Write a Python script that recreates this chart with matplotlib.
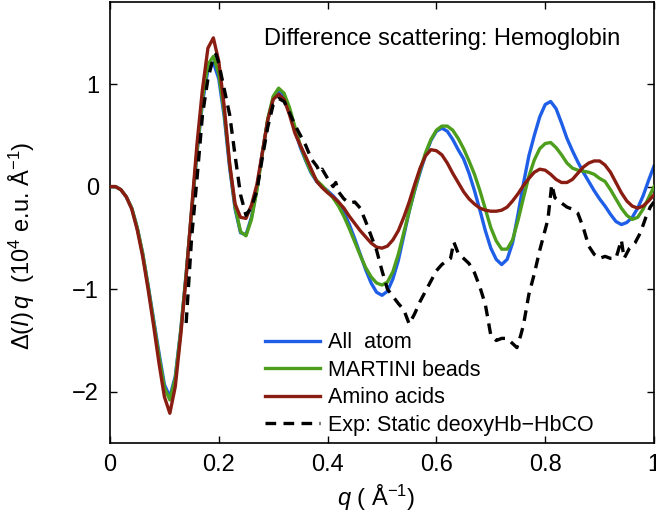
import numpy as np
import matplotlib
matplotlib.use("Agg")
import matplotlib.pyplot as plt

plt.rcParams["font.family"] = ["Liberation Sans", "DejaVu Sans"]
plt.rcParams["mathtext.fontset"] = "custom"
plt.rcParams["mathtext.rm"] = "Liberation Sans"
plt.rcParams["mathtext.it"] = "Liberation Sans:italic"
plt.rcParams["axes.unicode_minus"] = True

# model curves sampled every 0.01 in q
q_grid = np.linspace(0, 1, 101)

all_atom = [
    0, 0, -0.03, -0.10, -0.21, -0.40, -0.65, -0.96, -1.29, -1.62,
    -1.93, -2.05, -1.85, -1.40, -0.85, -0.25, 0.33, 0.82, 1.14, 1.21,
    1.05, 0.68, 0.18, -0.22, -0.45, -0.47, -0.30, -0.02, 0.33, 0.65,
    0.86, 0.93, 0.88, 0.74, 0.55, 0.38, 0.25, 0.13, 0.05, 0.00,
    -0.04, -0.09, -0.15, -0.25, -0.37, -0.51, -0.66, -0.81, -0.94, -1.03,
    -1.06, -1.02, -0.90, -0.72, -0.48, -0.24, -0.04, 0.14, 0.31, 0.45,
    0.54, 0.57, 0.54, 0.46, 0.36, 0.27, 0.13, -0.04, -0.23, -0.43,
    -0.60, -0.71, -0.76, -0.71, -0.55, -0.27, 0.03, 0.30, 0.50, 0.68,
    0.80, 0.83, 0.76, 0.62, 0.47, 0.35, 0.24, 0.14, 0.05, -0.04,
    -0.12, -0.19, -0.27, -0.34, -0.37, -0.35, -0.30, -0.21, -0.09, 0.06,
    0.20,
]

martini = [
    0, 0, -0.03, -0.10, -0.21, -0.40, -0.65, -0.97, -1.31, -1.65,
    -1.96, -2.08, -1.87, -1.41, -0.85, -0.24, 0.35, 0.86, 1.19, 1.27,
    1.10, 0.72, 0.21, -0.20, -0.44, -0.48, -0.32, -0.04, 0.32, 0.66,
    0.88, 0.96, 0.91, 0.77, 0.58, 0.40, 0.26, 0.14, 0.06, 0.01,
    -0.05, -0.11, -0.19, -0.29, -0.41, -0.54, -0.67, -0.79, -0.88, -0.94,
    -0.96, -0.93, -0.83, -0.66, -0.45, -0.24, -0.03, 0.16, 0.33, 0.46,
    0.55, 0.59, 0.59, 0.55, 0.47, 0.37, 0.25, 0.12, -0.04, -0.22,
    -0.40, -0.53, -0.61, -0.61, -0.52, -0.33, -0.11, 0.10, 0.26, 0.37,
    0.42, 0.43, 0.38, 0.31, 0.23, 0.18, 0.16, 0.15, 0.14, 0.12,
    0.08, 0.05, -0.03, -0.12, -0.21, -0.28, -0.32, -0.30, -0.22, -0.11,
    0.00,
]

amino = [
    0, 0, -0.03, -0.10, -0.22, -0.42, -0.68, -1.00, -1.35, -1.72,
    -2.05, -2.21, -1.95, -1.45, -0.88, -0.22, 0.42, 0.95, 1.35, 1.45,
    1.22, 0.78, 0.22, -0.17, -0.30, -0.31, -0.18, 0.02, 0.33, 0.65,
    0.85, 0.90, 0.85, 0.70, 0.52, 0.40, 0.29, 0.17, 0.05, -0.01,
    -0.06, -0.10, -0.15, -0.21, -0.29, -0.36, -0.43, -0.49, -0.55, -0.59,
    -0.60, -0.58, -0.52, -0.43, -0.30, -0.15, 0.02, 0.18, 0.30, 0.36,
    0.35, 0.31, 0.23, 0.13, 0.04, -0.05, -0.12, -0.17, -0.21, -0.23,
    -0.24, -0.24, -0.23, -0.20, -0.14, -0.07, 0.01, 0.08, 0.14, 0.17,
    0.16, 0.12, 0.07, 0.04, 0.04, 0.07, 0.13, 0.19, 0.23, 0.25,
    0.25, 0.21, 0.14, 0.04, -0.06, -0.14, -0.19, -0.21, -0.19, -0.14,
    -0.08,
]

# experimental static difference deoxyHb - HbCO
q_exp = [
    0.140, 0.150, 0.160, 0.170, 0.180, 0.190, 0.195, 0.200, 0.210, 0.220,
    0.230, 0.240, 0.250, 0.260, 0.270, 0.280, 0.290, 0.300, 0.310, 0.320,
    0.330, 0.340, 0.350, 0.360, 0.370, 0.380, 0.386, 0.390, 0.400, 0.410,
    0.415, 0.420, 0.430, 0.440, 0.450, 0.460, 0.470, 0.480, 0.490, 0.500,
    0.510, 0.520, 0.530, 0.540, 0.550, 0.560, 0.570, 0.580, 0.590, 0.600,
    0.610, 0.620, 0.626, 0.632, 0.640, 0.650, 0.660, 0.670, 0.680, 0.690,
    0.700, 0.710, 0.720, 0.730, 0.740, 0.748, 0.755, 0.760, 0.770, 0.780,
    0.790, 0.800, 0.805, 0.812, 0.818, 0.830, 0.840, 0.850, 0.860, 0.870,
    0.880, 0.890, 0.900, 0.910, 0.920, 0.930, 0.940, 0.945, 0.955, 0.965,
    0.975, 0.985, 0.993, 1.000,
]
exp_static = [
    -1.33, -0.50, 0.08, 0.70, 1.05, 1.26, 1.29, 1.20, 0.95, 0.70,
    0.30, -0.08, -0.28, -0.20, -0.04, 0.28, 0.58, 0.80, 0.86, 0.83,
    0.72, 0.60, 0.50, 0.40, 0.27, 0.20, 0.14, 0.17, 0.08, 0.00,
    0.04, -0.05, -0.12, -0.16, -0.15, -0.21, -0.34, -0.48, -0.62, -0.82,
    -1.00, -1.07, -1.14, -1.20, -1.34, -1.24, -1.12, -1.02, -0.92, -0.82,
    -0.76, -0.72, -0.70, -0.54, -0.65, -0.70, -0.75, -0.84, -0.98, -1.15,
    -1.45, -1.50, -1.48, -1.48, -1.53, -1.57, -1.45, -1.35, -1.05, -0.85,
    -0.62, -0.42, -0.32, 0.02, -0.11, -0.16, -0.20, -0.22, -0.26, -0.40,
    -0.58, -0.66, -0.70, -0.68, -0.70, -0.70, -0.52, -0.70, -0.60, -0.55,
    -0.45, -0.30, -0.20, -0.15,
]

labels = ["All  atom", "MARTINI beads", "Amino acids", "Exp: Static deoxyHb\u2212HbCO"]

fig = plt.figure(figsize=(6.56, 5.12), dpi=100)
ax = fig.add_axes([110 / 656, 1 - 443 / 512, 544 / 656, 441 / 512])

ax.plot(q_grid, all_atom, color="#1f5fe8", lw=2.4, label=labels[0], zorder=2,
        solid_joinstyle="round")
ax.plot(q_grid, martini, color="#4c9e1c", lw=2.4, label=labels[1], zorder=3,
        solid_joinstyle="round")
ax.plot(q_grid, amino, color="#8a1d12", lw=2.4, label=labels[2], zorder=4,
        solid_joinstyle="round")
ax.plot(q_exp, exp_static, color="black", lw=2.4, ls=(0, (3.2, 2.2)),
        label=labels[3], zorder=5)

ax.set_xlim(0, 1)
ax.set_ylim(-2.5, 1.8)
ax.set_xticks([0, 0.2, 0.4, 0.6, 0.8, 1])
ax.set_xticklabels(["0", "0.2", "0.4", "0.6", "0.8", "1"])
ax.set_yticks([-2, -1, 0, 1])
ax.set_yticklabels(["\u22122", "\u22121", "0", "1"])
ax.tick_params(direction="in", top=True, right=True, length=5, width=1,
               labelsize=17, pad=8)
for s in ax.spines.values():
    s.set_linewidth(1.2)

ax.set_xlabel(r"$q$ ( Å$^{-1}$)", fontsize=17)
ax.xaxis.set_label_coords(0.49, -0.09)
ax.set_ylabel(r"$\Delta(I)\,q$  (10$^4$ e.u. Å$^{-1}$)", fontsize=17, va="center")
ax.yaxis.set_label_coords(-0.162, 0.447)

ax.text(0.611, 0.9025, "Difference scattering: Hemoglobin", transform=ax.transAxes,
        ha="center", va="baseline", fontsize=17)

ax.legend(loc="upper left", bbox_to_anchor=(0.285, 0.251), frameon=False,
          fontsize=15.5, handlelength=2.55, handletextpad=0.37,
          labelspacing=0.30, borderpad=0, borderaxespad=0)

fig.savefig("out.png", dpi=100)
